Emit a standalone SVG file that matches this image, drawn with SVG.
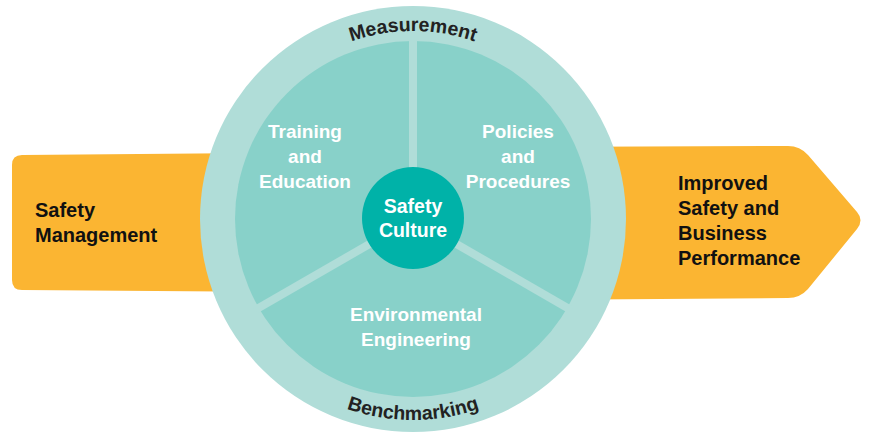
<svg xmlns="http://www.w3.org/2000/svg" width="869" height="433" viewBox="0 0 869 433">
<style>
.orange{fill:#fbb532}
.ring{fill:#b0ddd8}
.inner{fill:#88d1c9}
.core{fill:#00b2a8}
.div{stroke:#b0ddd8;stroke-width:8;fill:none}
.dark{font-family:"Liberation Sans",Arial,sans-serif;font-weight:bold;fill:#111;font-size:20px}
.white{font-family:"Liberation Sans",Arial,sans-serif;font-weight:bold;fill:#fff;font-size:19px;text-anchor:middle}
.big{font-size:19.5px}
.arc{font-family:"Liberation Sans",Arial,sans-serif;font-weight:bold;fill:#222;font-size:19.5px}
</style>
<defs>
<path id="topArc" d="M 225 219 A 188 188 0 0 1 601 219"/>
<path id="botArc" d="M 212 219 A 201 201 0 0 0 614 219"/>
</defs>
<g id="safety-management">
<path class="orange" d="M 22 155 L 300 152.5 L 300 292 L 22 290 Q 12 290 12 280 L 12 165 Q 12 155 22 155 Z"/>
<text class="dark"><tspan x="35" y="217">Safety</tspan><tspan x="35" y="242">Management</tspan></text>
</g>
<g id="improved-performance">
<path class="orange" d="M 520 147 L 788 146 Q 800 146 808 155 L 857 212 Q 864 220 857 229 L 808 289 Q 800 298 788 298 L 520 300 Z"/>
<text class="dark"><tspan x="678" y="190">Improved</tspan><tspan x="678" y="215">Safety and</tspan><tspan x="678" y="240">Business</tspan><tspan x="678" y="265">Performance</tspan></text>
</g>
<g id="outer-ring">
<circle class="ring" cx="413" cy="219" r="213"/>
<text class="arc"><textPath href="#topArc" startOffset="50%" text-anchor="middle">Measurement</textPath></text>
<text class="arc"><textPath href="#botArc" startOffset="50%" text-anchor="middle">Benchmarking</textPath></text>
</g>
<g id="inner-disc">
<circle class="inner" cx="413" cy="219" r="178"/>
</g>
<g id="connectors">
<line class="div" x1="413" y1="219" x2="413" y2="38"/>
<line class="div" x1="413" y1="219" x2="255" y2="310"/>
<line class="div" x1="413" y1="219" x2="571" y2="310"/>
</g>
<g id="training-education">
<text class="white"><tspan x="305" y="138">Training</tspan><tspan x="305" y="163">and</tspan><tspan x="305" y="188">Education</tspan></text>
</g>
<g id="policies-procedures">
<text class="white"><tspan x="518" y="138">Policies</tspan><tspan x="518" y="163">and</tspan><tspan x="518" y="188">Procedures</tspan></text>
</g>
<g id="environmental-engineering">
<text class="white"><tspan x="416" y="321">Environmental</tspan><tspan x="416" y="346">Engineering</tspan></text>
</g>
<g id="safety-culture">
<circle class="core" cx="413" cy="218" r="51"/>
<text class="white big"><tspan x="413" y="213">Safety</tspan><tspan x="413" y="237">Culture</tspan></text>
</g>
</svg>
